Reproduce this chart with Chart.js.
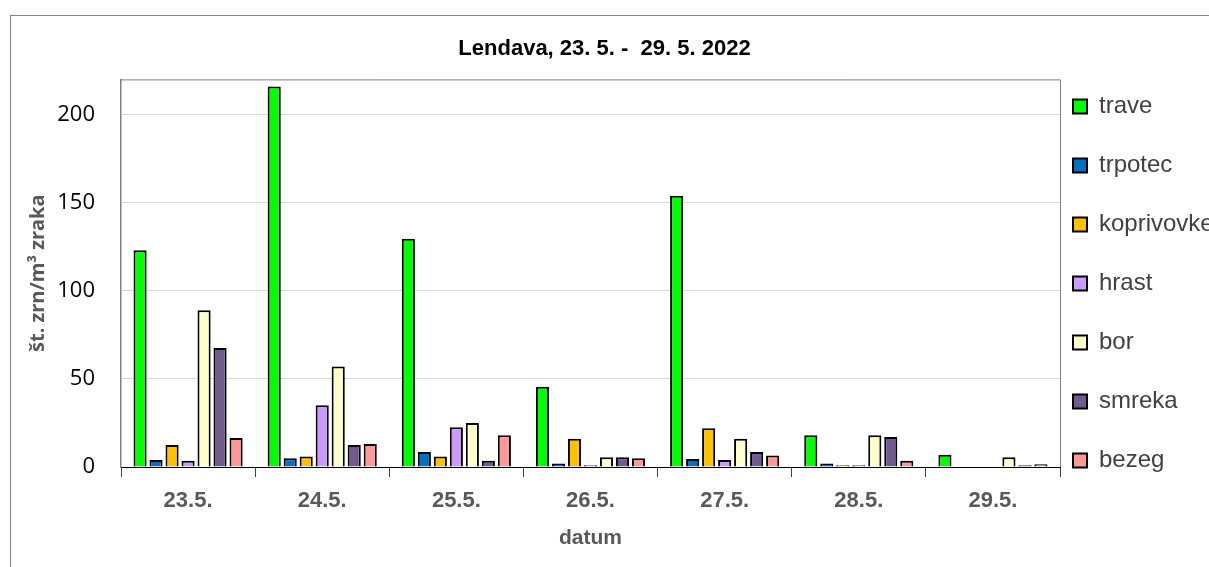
<!DOCTYPE html>
<html>
<head>
<meta charset="utf-8">
<script src="https://cdn.jsdelivr.net/npm/chart.js@4.4.1/dist/chart.umd.min.js"></script>
<style>
  html, body { margin: 0; padding: 0; background: #fff; }
  #wrap { width: 1209px; height: 567px; position: relative; }
</style>
</head>
<body>
<div id="wrap"><canvas id="podium"></canvas></div>
<script>
    "use strict";

    // dnevi in izmerjene vrednosti (št. zrn/m3 zraka)
    const days = ['23.5.', '24.5.', '25.5.', '26.5.', '27.5.', '28.5.', '29.5.'];
    const trave = [123, 216, 129.5, 45.5, 154, 18, 7];
    const trpotec = [4, 5, 8.5, 2, 4.5, 2, 0];
    const koprivovke = [12.5, 6, 6, 16, 22, 1, 0];
    const hrast = [3.5, 35, 22.5, 1, 4, 1, 0];
    const bor = [89, 57, 25, 5.5, 16, 18, 5.5];
    const smreka = [67.5, 12.5, 3.5, 5.5, 8.5, 17, 1];
    const bezeg = [16.5, 13, 18, 5, 6.5, 3.5, 1.5];
    const yTicks = [0, 50, 100, 150, 200];

    const series = [
        ['trave', trave, '#00FF00'],
        ['trpotec', trpotec, '#0070C0'],
        ['koprivovke', koprivovke, '#FFC000'],
        ['hrast', hrast, '#CC99FF'],
        ['bor', bor, '#FFFFCC'],
        ['smreka', smreka, '#705A8F'],
        ['bezeg', bezeg, '#FF9999']
    ];

    // okvir slike in okvir risalne povrsine
    const frames = {
        id: 'frames',
        beforeDraw(chart) {
            const c = chart.ctx;
            c.save();
            c.strokeStyle = '#808080';
            c.lineWidth = 1;
            c.strokeRect(10.5, 15.5, 1400, 700);
            const a = chart.chartArea;
            c.beginPath();
            c.moveTo(a.left, a.top + 0.5);
            c.lineTo(a.right + 0.5, a.top + 0.5);
            c.lineTo(a.right + 0.5, a.bottom);
            c.stroke();
            c.restore();
        },
        afterLayout(chart) {
            // legenda malo bolj levo, besedilo pa sme cez rob
            chart.legend.left -= 22;
            chart.legend.right += 60;
        }
    };

    new Chart(document.getElementById('podium'), {
        type: 'bar',
        data: {
            labels: days,
            datasets: series.map(s => ({
                label: s[0],
                data: s[1],
                backgroundColor: s[2],
                borderColor: '#000',
                borderWidth: 2,
                borderSkipped: 'start',
                categoryPercentage: 0.835,
                barPercentage: 0.82
            }))
        },
        options: {
            responsive: true,
            maintainAspectRatio: false,
            animation: false,
            layout: { padding: 0 },
            plugins: {
                title: {
                    display: true,
                    text: 'Lendava, 23. 5. -  29. 5. 2022',
                    color: '#000',
                    font: { family: 'Liberation Sans', size: 22, weight: 'bold' },
                    padding: { top: 36, bottom: 17 }
                },
                legend: {
                    position: 'right',
                    maxWidth: 149,
                    labels: {
                        boxWidth: 14,
                        boxHeight: 14,
                        padding: 35,
                        color: '#404040',
                        font: { family: 'Liberation Sans', size: 24 }
                    }
                },
                tooltip: { enabled: false }
            },
            scales: {
                x: {
                    afterFit(scale) { scale.height = 100; },
                    grid: {
                        offset: true,
                        drawOnChartArea: false,
                        drawTicks: true,
                        tickLength: 10,
                        color: '#404040'
                    },
                    border: { color: '#000', width: 1 },
                    ticks: {
                        color: '#595959',
                        padding: 11,
                        font: { family: 'Liberation Sans', size: 22, weight: 'bold' }
                    },
                    title: {
                        display: true,
                        text: 'datum',
                        color: '#595959',
                        font: { family: 'Liberation Sans', size: 21, weight: 'bold' },
                        padding: { top: 0, bottom: 16 }
                    }
                },
                y: {
                    min: 0,
                    max: 220,
                    afterFit(scale) { scale.width = 121; },
                    afterBuildTicks(scale) {
                        scale.ticks = yTicks.map(v => ({ value: v }));
                    },
                    grid: {
                        color: '#D9D9D9',
                        drawTicks: false
                    },
                    border: { color: '#808080', width: 1.5 },
                    ticks: {
                        color: '#000',
                        padding: 26,
                        font: { family: 'Open Sans', size: 22 }
                    },
                    title: {
                        display: true,
                        text: 'št. zrn/m³ zraka',
                        color: '#595959',
                        font: { family: 'Open Sans', size: 20, weight: 'bold' },
                        padding: { top: 26, bottom: 0 }
                    }
                }
            }
        },
        plugins: [frames]
    });
</script>
</body>
</html>
